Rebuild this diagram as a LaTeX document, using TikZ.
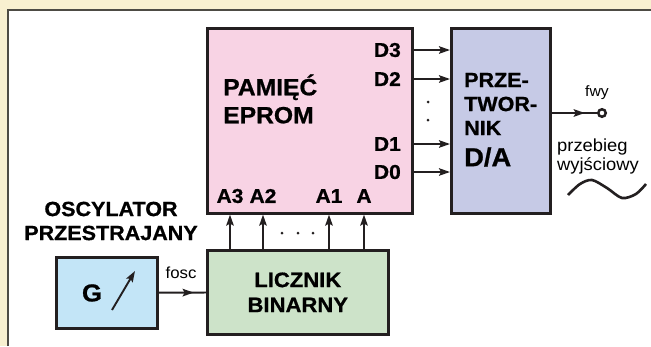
\documentclass[tikz,border=0pt]{standalone}
\usepackage{fontspec}
\setmainfont{Liberation Sans}[FakeStretch=1.05, BoldFeatures={FakeBold=0.8}]
\usepackage{tikz}
\usetikzlibrary{arrows.meta,decorations.markings,positioning}
\definecolor{cream}{RGB}{248,240,208}
\definecolor{frameC}{RGB}{77,75,68}
\definecolor{epromC}{RGB}{248,211,228}
\definecolor{daC}{RGB}{198,202,230}
\definecolor{genC}{RGB}{195,229,247}
\definecolor{cntC}{RGB}{205,227,201}
\definecolor{ink}{RGB}{35,31,32}
\tikzset{
    blok/.style={draw=ink, line width=2.6pt, inner sep=0pt, anchor=north west},
    pin/.style={font=\bfseries\fontsize{20}{22}\selectfont, inner sep=0pt},
    title/.style={font=\bfseries\fontsize{20.5}{24}\selectfont, align=left, inner sep=0pt},
    thin/.style={font=\fontsize{16}{19}\selectfont, inner sep=0pt},
    con/.style={draw=ink, line width=1.9pt, -{Stealth[length=11pt,width=7.5pt,inset=2pt]}},
    midarr/.style={decoration={markings,
        mark=at position #1 with {\arrow{Stealth[length=11pt,width=7.5pt,inset=2pt]}}},
        postaction=decorate}
}

\begin{document}
\begin{tikzpicture}[x=1pt, y=-1pt]
    \useasboundingbox (0,0) rectangle (651,346);
    \fill[cream] (0,0) rectangle (651,346);
    \fill[white] (8,10) rectangle (651,346);
    \draw[frameC, line width=2pt] (8,346) -- (8,10) -- (651,10);

    % blocks
    \node[blok, fill=epromC, minimum width=205, minimum height=185] (eprom) at (206,27) {};
    \node[blok, fill=daC, minimum width=99, minimum height=185] (da) at (450,27) {};
    \node[blok, fill=genC, minimum width=101, minimum height=71] (gen) at (55,256) {};
    \node[blok, fill=cntC, minimum width=181, minimum height=84, align=center,
        font=\bfseries\fontsize{21}{25}\selectfont] (cnt) at (206,249) {LICZNIK\\BINARNY};

    \node[title, font=\bfseries\fontsize{23.5}{28}\selectfont, anchor=west] (mem) at (223,99) {PAMIĘĆ\\EPROM};
    \node[title, anchor=west] (conv) at (464,104) {PRZE-\\TWOR-\\NIK};
    \node[title, font=\bfseries\fontsize{26}{30}\selectfont, anchor=west] (dalbl) at (464,157) {D/A};
    \node[title, align=center] (osc) at (111,221) {OSCYLATOR\\PRZESTRAJANY};
    \node[font=\bfseries\fontsize{24.5}{28}\selectfont, inner sep=0pt] (glbl) at (92,293) {G};
    \draw[con] (112,310) -- (135,271);

    % data outputs
    \node[pin, anchor=east] (d3) at (401,50) {D3};
    \node[pin, anchor=east] (d2) at (401,79) {D2};
    \node[pin, anchor=east] (d1) at (401,144) {D1};
    \node[pin, anchor=east] (d0) at (401,172) {D0};
    \foreach \d in {d3,d2,d1,d0}
        \draw[con] (eprom.east |- \d) -- (da.west |- \d);
    \fill[ink] (428,102) circle (1.5) (428,120) circle (1.5);

    % address inputs
    \node[pin] (a3) at (230,196) {A3};
    \node[pin] (a2) at (263,196) {A2};
    \node[pin] (a1) at (329,196) {A1};
    \node[pin] (a0) at (364,196) {A};
    \foreach \a in {a3,a2,a1,a0}
        \draw[con] (cnt.north -| \a) -- (eprom.south -| \a);
    \fill[ink] (282,233) circle (1.5) (298,233) circle (1.5) (313,233) circle (1.5);

    % clock and output
    \draw[ink, line width=1.9pt, midarr=0.74] (gen) -- (cnt);
    \node[thin] (fosc) at (181,273) {fosc};
    \node[circle, draw=ink, line width=2.5pt, minimum size=7.5pt, inner sep=0pt] (out) at (602,113) {};
    \draw[ink, line width=1.9pt, midarr=0.73] (da.east |- out) -- (out);
    \node[thin, font=\fontsize{15}{18}\selectfont] (fwy) at (597,93) {fwy};
    \node[thin, font=\fontsize{17.5}{19}\selectfont, align=left, anchor=west] (wave) at (557,156) {przebieg\\wyjściowy};
    \draw[ink, line width=2.6pt] plot[smooth] coordinates {(568,195) (580,184) (592,180) (607,188) (622,198) (636,194) (646,184)};
\end{tikzpicture}
\end{document}
